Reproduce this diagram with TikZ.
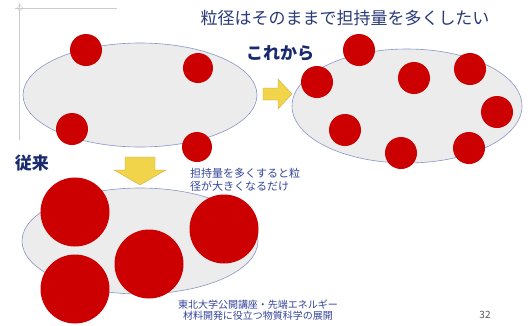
\documentclass[tikz,border=0pt]{standalone}
\usepackage{fontspec}
\newfontfamily\jp{Noto Sans CJK JP}
\usetikzlibrary{shapes.geometric}
\definecolor{navy}{HTML}{1A2A6E}
\definecolor{ttl}{HTML}{2A3A78}
\definecolor{notec}{HTML}{34449A}
\definecolor{dotred}{HTML}{CC0000}
\definecolor{ellfill}{HTML}{ECECEC}
\definecolor{elldraw}{HTML}{8A96C8}
\definecolor{arrowyel}{HTML}{F2D44A}
\begin{document}
\begin{tikzpicture}[x=1pt,y=-1pt,
  ell/.style={ellipse, draw=elldraw, fill=ellfill, line width=0.6pt, inner sep=0pt},
  dot/.style={circle, fill=dotred, inner sep=0pt, minimum size=#1},
  dot/.default=32pt,
  bigarrow/.style={fill=arrowyel, draw=arrowyel!80!black, line width=0.3pt, line join=miter},
  lbl/.style={font=\jp\bfseries\fontsize{17}{17}\selectfont, text=navy, inner sep=0pt}
]
\useasboundingbox (0,0) rectangle (531,325);
\fill[white] (0,0) rectangle (531,325);
% slide frame remnants
\draw[gray!40, line width=0.3pt] (15,8) -- (117,8);
\draw[gray!40, line width=0.3pt] (19,3) -- (19,140);
\draw[gray!50, line width=0.3pt] (20,8) circle (2.5);
% title
\node[font=\jp\fontsize{17}{17}\selectfont, text=ttl, inner sep=0pt] (title) at (345,18) {粒径はそのままで担持量を多くしたい};
% top-left ellipse
\node[ell, minimum width=234pt, minimum height=104pt] (e1) at (140,95) {};
\node[dot] (a1) at (86,50) {};
\node[dot=30pt] (a2) at (198,68) {};
\node[dot] (a3) at (72,129) {};
\node[dot=30pt] (a4) at (197,147) {};
% right arrow
\draw[bigarrow] (263,88) -- (278,88) -- (278,79) -- (292,94) -- (278,109) -- (278,100) -- (263,100) -- cycle;
% これから
\node[lbl] (kore) at (280,53) {これから};
% right ellipse
\node[ell, minimum width=230pt, minimum height=114pt] (e2) at (407,106) {};
\node[dot] (b1) at (359,50) {};
\node[dot] (b2) at (317,82) {};
\node[dot] (b3) at (414,78) {};
\node[dot] (b4) at (470,69) {};
\node[dot] (b5) at (497,112) {};
\node[dot] (b6) at (345,130) {};
\node[dot] (b7) at (401,153) {};
\node[dot] (b8) at (469,148) {};
% 従来
\node[lbl] (jurai) at (32,163) {従来};
% down arrow
\draw[bigarrow] (125,157) -- (155,157) -- (155,170) -- (166,170) -- (140,185) -- (114,170) -- (125,170) -- cycle;
% note
\node[font=\jp\fontsize{11}{13}\selectfont, text=notec, align=left, anchor=north west, inner sep=0pt] (note) at (190,168) {担持量を多くすると粒\\径が大きくなるだけ};
% bottom ellipse
\node[ell, minimum width=236pt, minimum height=106pt] (e3) at (140,241) {};
\node[dot=69pt] (c1) at (75,212) {};
\node[dot=69pt] (c2) at (224,229) {};
\node[dot=69pt] (c3) at (149,264) {};
\node[dot=69pt] (c4) at (75,289) {};
% footer
\node[font=\jp\fontsize{10}{11}\selectfont, text=notec, align=center, inner sep=0pt] (foot) at (258,310) {東北大学公開講座・先端エネルギー\\材料開発に役立つ物質科学の展開};
\node[font=\jp\fontsize{10}{11}\selectfont, text=gray!70!black, inner sep=0pt] (pg) at (485,315) {32};
\end{tikzpicture}
\end{document}
